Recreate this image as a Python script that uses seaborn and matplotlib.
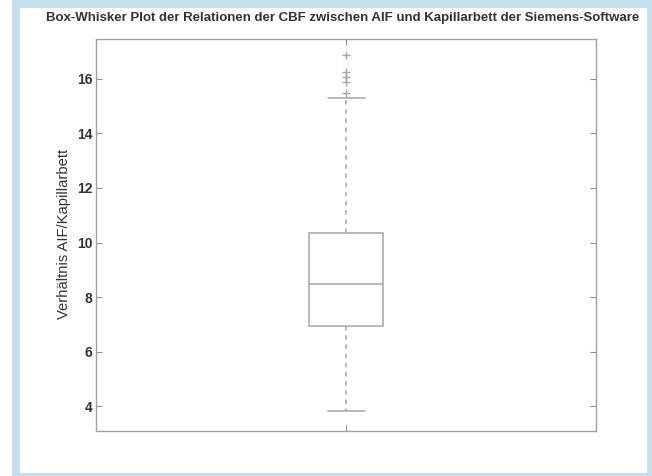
import numpy as np
import pandas as pd
import seaborn as sns
import matplotlib
matplotlib.use("Agg")
import matplotlib.pyplot as plt
from matplotlib.patches import Rectangle

# Summary values of the CBF ratio AIF / capillary bed (Siemens software)
whisker_lo = 3.82
q1 = 6.93
median = 8.47
q3 = 10.34
whisker_hi = 15.29
outliers = [15.47, 15.88, 16.06, 16.25, 16.86]

yticks = [4, 6, 8, 10, 12, 14, 16]
title = "Box-Whisker Plot der Relationen der CBF zwischen AIF und Kapillarbett der Siemens-Software"
ylabel = "Verhältnis AIF/Kapillarbett"

# Sample whose quartiles, whiskers and outliers reproduce the summary above
ratio = [whisker_lo] + [q1] * 6 + [median] * 6 + [q3] * 6 + [whisker_hi] + outliers
df = pd.DataFrame({"ratio": ratio})

sns.set_style("white")
plt.rcParams["font.family"] = ["Liberation Sans", "DejaVu Sans"]

fig = plt.figure(figsize=(6.52, 4.76), dpi=100)
fig.patch.set_facecolor("white")

# light blue frame around the panel
fig.patches.append(Rectangle((12 / 652, 0), 640 / 652, 1, transform=fig.transFigure,
                             facecolor="#c4e0ef", edgecolor="none", zorder=-2))
fig.patches.append(Rectangle((20 / 652, 3 / 476), 627 / 652, 465 / 476, transform=fig.transFigure,
                             facecolor="white", edgecolor="none", zorder=-1))

ax = fig.add_axes([96 / 652, 1 - 431 / 476, 500 / 652, 392 / 476])
ax.set_facecolor("white")

line_c = "#a6a6a6"
sns.boxplot(data=df, y="ratio", ax=ax, width=0.148, color="white", linecolor=line_c,
            linewidth=1.1, whis=1.5,
            whiskerprops=dict(linestyle=(0, (3, 3)), color=line_c),
            capprops=dict(color=line_c),
            medianprops=dict(color=line_c),
            flierprops=dict(marker="+", markersize=6, markeredgecolor=line_c,
                            markeredgewidth=1.0))

ax.set_xlim(-0.5, 0.5)
ax.set_ylim(3.1, 17.45)
ax.set_xticks([0])
ax.set_xticklabels([])
ax.set_yticks(yticks)
ax.set_yticklabels([str(t) for t in yticks], fontsize=10, fontweight="bold", color="#333333")
ax.tick_params(axis="both", direction="in", length=4, color="#909090",
               left=True, right=True, top=True, bottom=True, pad=2.5)
for s in ax.spines.values():
    s.set_visible(True)
    s.set_color("#a0a0a0")
    s.set_linewidth(1.0)

ax.set_xlabel("")
ax.set_ylabel("")
fig.text(64 / 652, 1 - 234 / 476, ylabel, rotation=90, ha="center", va="center",
         fontsize=10.6, color="#333333")
fig.text(343 / 652, 1 - 18 / 476, title, ha="center", va="center",
         fontsize=9.5, fontweight="bold", color="#333333")

fig.savefig("out.png", dpi=100, facecolor="white")
